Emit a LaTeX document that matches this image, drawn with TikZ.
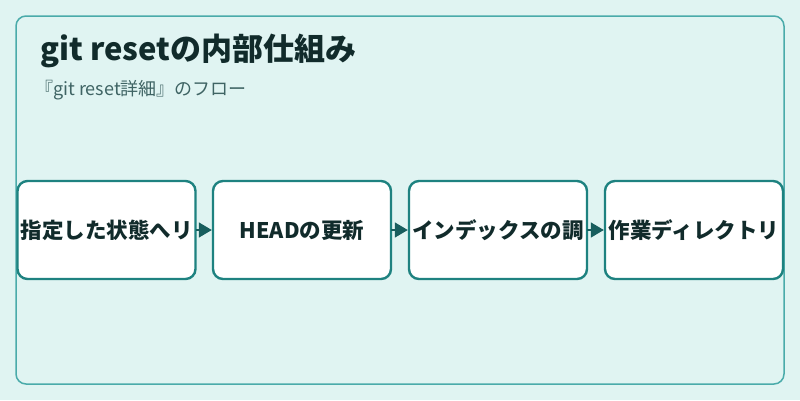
\documentclass[tikz,border=0pt]{standalone}
\usepackage{fontspec}
\setmainfont{Noto Sans CJK JP}
\usetikzlibrary{arrows.meta}

\definecolor{bgcyan}{HTML}{E0F4F2}
\definecolor{panelline}{HTML}{4AABAA}
\definecolor{boxline}{HTML}{1E8280}
\definecolor{arrowteal}{HTML}{185E5E}
\definecolor{titleink}{HTML}{112B2B}
\definecolor{subink}{HTML}{3F6464}

\begin{document}
\begin{tikzpicture}[x=1pt,y=-1pt,>={Triangle[length=13pt,width=15pt]}]
			\tikzstyle{stagebox} = [draw=boxline,line width=2.4pt,fill=white,rounded corners=10pt,
				minimum width=178pt,minimum height=98pt,inner sep=0pt,
				font=\fontsize{21.5}{26}\selectfont\bfseries,text=titleink];
			% background and panel
			\fill[bgcyan] (0,0) rectangle (800,400);
			\draw[panelline,line width=1.5pt,rounded corners=10pt] (16,16) rectangle (784,384);
			\node[anchor=base west,inner sep=0pt,text=titleink,font=\fontsize{31}{36}\selectfont\bfseries] (title) at (40,60) {git resetの内部仕組み};
			\node[anchor=base west,inner sep=0pt,text=subink,font=\fontsize{18}{21}\selectfont] (subtitle) at (35,95) {『git reset詳細』のフロー};
			% stages
			\node[stagebox] (reset) at (106.5,230) {指定した状態へリ};
			\node[stagebox] (head) at (302,230) {HEADの更新};
			\node[stagebox] (index) at (498,230) {インデックスの調};
			\node[stagebox] (work) at (694,230) {作業ディレクトリ};
			\draw[->,arrowteal,line width=1.5pt,shorten <=-1pt] (reset) -- (head);
			\draw[->,arrowteal,line width=1.5pt,shorten <=-1pt] (head) -- (index);
			\draw[->,arrowteal,line width=1.5pt,shorten <=-1pt] (index) -- (work);
		\end{tikzpicture}
\end{document}
